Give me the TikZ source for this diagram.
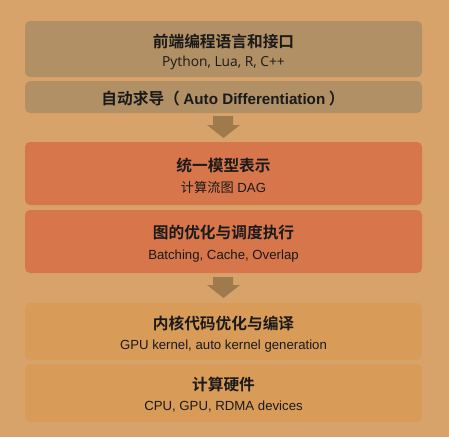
\documentclass[tikz,border=0pt]{standalone}
\usepackage{fontspec}
\setmainfont{Liberation Sans}
\newfontfamily\cjkb[BoldFont=*]{Noto Sans CJK SC Bold}
\newfontfamily\cjk{Noto Sans CJK SC}
\newfontfamily\opens{Open Sans}
\definecolor{bg}{HTML}{D8A36A}
\definecolor{cA}{HTML}{B09064}
\definecolor{cB}{HTML}{D7754B}
\definecolor{cC}{HTML}{D99B58}
\definecolor{arr}{HTML}{9E7A4C}
\definecolor{txt}{HTML}{1A1A1A}
\begin{document}
\begin{tikzpicture}[x=1pt,y=-1pt,
  layer/.style={rounded corners=5pt, inner sep=0pt},
  ttl/.style={font=\cjkb\fontsize{15.7}{17}\selectfont, text=txt},
  sub/.style={font=\fontsize{13.2}{15}\selectfont, text=txt},
  subo/.style={font=\opens\fontsize{13.8}{15}\selectfont, text=txt},
  bigarrow/.style={fill=arr}]
\useasboundingbox (0,0) rectangle (449,437);
\fill[bg] (0,0) rectangle (449,437);
% boxes
\fill[cA,layer] (25,21) rectangle (422,77);
\fill[cA,layer] (25,81) rectangle (422,113);
\fill[cB,layer] (25,142) rectangle (422,205);
\fill[cB,layer] (25,210) rectangle (422,273);
\fill[cC,layer] (25,303) rectangle (422,360);
\fill[cC,layer] (25,364) rectangle (422,422);
% arrows
\fill[bigarrow] (213,116) -- (233,116) -- (233,125) -- (240,125) -- (223.5,138) -- (207,125) -- (213,125) -- cycle;
\fill[bigarrow] (213,277) -- (233,277) -- (233,285) -- (240,285) -- (223.5,298) -- (207,285) -- (213,285) -- cycle;
% texts
\node[ttl] (t1) at (223.5,41) {前端编程语言和接口};
\node[subo] (s1) at (223.5,63) {Python, Lua, R, C++};
\node[ttl] (t2) at (223,99) {自动求导（ {\rmfamily\bfseries\fontsize{15.2}{17}\selectfont Auto Differentiation} ）};
\node[ttl] (t3) at (223.5,165) {统一模型表示};
\node[sub] (s3) at (223.5,187) {{\cjk 计算流图} DAG};
\node[ttl] (t4) at (223.5,233) {图的优化与调度执行};
\node[sub] (s4) at (223.5,256) {Batching, Cache, Overlap};
\node[ttl] (t5) at (223.5,323) {内核代码优化与编译};
\node[sub] (s5) at (223.5,346) {GPU kernel, auto kernel generation};
\node[ttl] (t6) at (223.5,384) {计算硬件};
\node[sub] (s6) at (223.5,407) {CPU, GPU, RDMA devices};
\end{tikzpicture}
\end{document}
